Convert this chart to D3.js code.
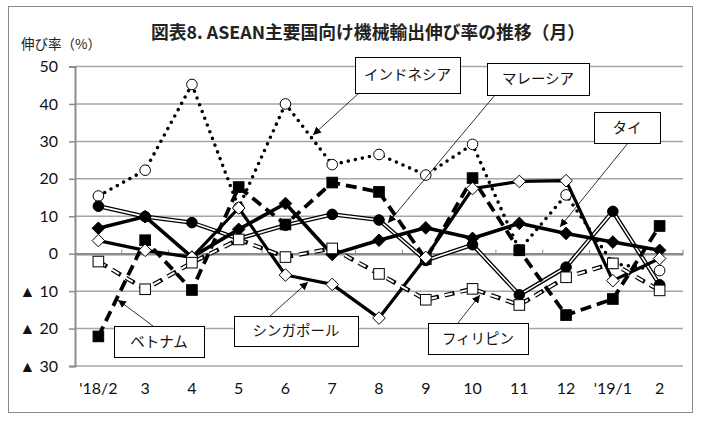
<!DOCTYPE html>
<html>
<head>
<meta charset="utf-8">
<script src="https://cdn.jsdelivr.net/npm/d3@7"></script>
<style>
  body { margin: 0; background: #fff; }
  svg { display: block; }
</style>
</head>
<body>
<svg id="chart"></svg>
<script>
//
// Data
//
var months = ["'18/2", "3", "4", "5", "6", "7", "8", "9", "10", "11", "12", "'19/1", "2"]
var yTicks = [50, 40, 30, 20, 10, 0, -10, -20, -30]

var indonesia   = [15.4, 22.3, 45.2, 12.3, 40.0, 23.8, 26.5, 21.0, 29.2, 1.0, 15.7, -2.6, -4.5]
var malaysia    = [12.7, 9.9, 8.3, 4.0, 7.6, 10.5, 9.0, -1.8, 2.4, -11.0, -3.6, 11.3, -8.3]
var thai        = [6.8, 9.9, -0.9, 6.5, 13.4, -0.2, 3.6, 6.9, 4.1, 8.1, 5.4, 3.1, 0.9]
var vietnam     = [-22.1, 3.6, -9.7, 17.8, 7.8, 19.0, 16.5, -1.5, 20.2, 0.9, -16.4, -12.1, 7.4]
var singapore   = [3.5, 0.9, -1.0, 12.2, -5.7, -8.2, -17.2, -1.0, 17.4, 19.3, 19.5, -7.2, -1.3]
var philippines = [-2.1, -9.5, -2.4, 3.8, -0.9, 1.4, -5.4, -12.3, -9.4, -13.7, -6.3, -2.6, -9.8]

//
// Layout
//
var width = 703, height = 425
var plotLeft = 75, plotRight = 683, plotTop = 66.5, plotBottom = 366
var jpFont = "'Noto Sans CJK JP', sans-serif"
var numFont = "Lato, 'Noto Sans', sans-serif"

var svg = d3.select('#chart').attr('width', width).attr('height', height)

var x = d3.scaleBand().domain(months).range([plotLeft, plotRight])
var y = d3.scaleLinear().domain([-30, 50]).range([plotBottom, plotTop])
var cx = function(d, i) { return x(months[i]) + x.bandwidth() / 2 }

// frame
svg.append('rect')
  .attr('x', 8.5).attr('y', 6.5).attr('width', 684).attr('height', 406)
  .attr('fill', '#fff').attr('stroke', '#888').attr('stroke-width', 1)

// title
svg.append('text')
  .attr('x', 368).attr('y', 39)
  .attr('text-anchor', 'middle')
  .attr('font-family', jpFont).attr('font-weight', 'bold').attr('font-size', 17.8)
  .attr('fill', '#222')
  .text('図表8. ASEAN主要国向け機械輸出伸び率の推移（月）')

svg.append('text')
  .attr('x', 21).attr('y', 49)
  .attr('font-family', jpFont).attr('font-size', 13.5)
  .attr('fill', '#222')
  .text('伸び率（%）')

// grid
svg.append('g').selectAll('line')
  .data(yTicks.filter(function(t) { return t !== 0 }))
  .join('line')
  .attr('x1', plotLeft).attr('x2', plotRight)
  .attr('y1', function(d) { return y(d) }).attr('y2', function(d) { return y(d) })
  .attr('stroke', '#a6a6a6').attr('stroke-width', 1.5)

// y axis
var yAxis = d3.axisLeft(y).tickValues(yTicks).tickSize(6)
  .tickFormat(function(d) { return d < 0 ? '▲ ' + (-d) : d })
var gy = svg.append('g').attr('transform', 'translate(' + plotLeft + ',0)').call(yAxis)
gy.select('.domain').attr('stroke', '#8c8c8c').attr('stroke-width', 2)
gy.selectAll('.tick line').attr('stroke', '#8c8c8c').attr('stroke-width', 1.5)
gy.selectAll('.tick text')
  .attr('x', -17)
  .attr('font-family', numFont).attr('font-size', 16).attr('fill', '#111')

// x axis along zero line
var xAxis = d3.axisTop(x).tickSize(0).tickFormat('')
var gx = svg.append('g').attr('transform', 'translate(0,' + y(0) + ')').call(xAxis)
gx.select('.domain').attr('stroke', '#8c8c8c').attr('stroke-width', 2.5)
gx.selectAll('.bound')
  .data(months.slice(1).concat(['end']))
  .join('line')
  .attr('class', 'bound')
  .attr('x1', function(d, i) { return plotLeft + x.step() * (i + 1) })
  .attr('x2', function(d, i) { return plotLeft + x.step() * (i + 1) })
  .attr('y1', -4).attr('y2', 0)
  .attr('stroke', '#8c8c8c').attr('stroke-width', 1)

// month labels at bottom
svg.append('g').selectAll('text')
  .data(months)
  .join('text')
  .attr('x', function(d) { return x(d) + x.bandwidth() / 2 })
  .attr('y', 394)
  .attr('text-anchor', 'middle')
  .attr('font-family', numFont).attr('font-size', 16).attr('fill', '#111')
  .text(function(d) { return d })

//
// Series
//
var line = d3.line().x(cx).y(function(d) { return y(d) })

function drawLine(values, color, w, dash, cap) {
  svg.append('path')
    .datum(values)
    .attr('d', line)
    .attr('fill', 'none')
    .attr('stroke', color)
    .attr('stroke-width', w)
    .attr('stroke-dasharray', dash || null)
    .attr('stroke-linecap', cap || 'butt')
    .attr('stroke-linejoin', 'round')
}

function drawMarkers(values, shape, fill) {
  var g = svg.append('g')
  values.forEach(function(v, i) {
    var px = cx(v, i), py = y(v)
    if (shape === 'circle') {
      g.append('circle').attr('cx', px).attr('cy', py).attr('r', 5.3)
        .attr('fill', fill).attr('stroke', '#000').attr('stroke-width', 1)
    } else if (shape === 'square') {
      g.append('rect').attr('x', px - 5.3).attr('y', py - 5.3).attr('width', 10.6).attr('height', 10.6)
        .attr('fill', fill).attr('stroke', '#000').attr('stroke-width', 1)
    } else {
      g.append('path').attr('d', 'M' + px + ',' + (py - 6.3) + 'L' + (px + 6.3) + ',' + py +
          'L' + px + ',' + (py + 6.3) + 'L' + (px - 6.3) + ',' + py + 'Z')
        .attr('fill', fill).attr('stroke', '#000').attr('stroke-width', 1)
    }
  })
}

// インドネシア: dotted
drawLine(indonesia, '#000', 3.6, '0,7.2', 'round')
drawMarkers(indonesia, 'circle', '#fff')

// マレーシア: double line
drawLine(malaysia, '#000', 4.2)
drawLine(malaysia, '#fff', 1.6)
drawMarkers(malaysia, 'circle', '#000')

// タイ: thick solid
drawLine(thai, '#000', 3.6)
drawMarkers(thai, 'diamond', '#000')

// ベトナム: thick dashed
drawLine(vietnam, '#000', 3.8, '11,6')
drawMarkers(vietnam, 'square', '#000')

// シンガポール: solid
drawLine(singapore, '#000', 3.2)
drawMarkers(singapore, 'diamond', '#fff')

// フィリピン: outlined dashes
drawLine(philippines, '#000', 4.4, '10,6')
drawLine(philippines, '#fff', 2, '8,8', null)
drawMarkers(philippines, 'square', '#fff')

//
// Callouts
//
var callouts = [
  { text: 'インドネシア', box: [355, 57, 105, 36], from: [359, 93], to: [313, 135] },
  { text: 'マレーシア', box: [487, 63, 102, 32], from: [495, 95], to: [388, 223] },
  { text: 'タイ', box: [594, 112, 66, 31], from: [628, 143], to: [560, 227] },
  { text: 'ベトナム', box: [114, 326, 90, 31], from: [153, 326], to: [118, 300] },
  { text: 'シンガポール', box: [234, 316, 124, 30], from: [270, 316], to: [308, 282] },
  { text: 'フィリピン', box: [428, 323, 100, 31], from: [458, 323], to: [480, 295] }
]

svg.append('defs').append('marker')
  .attr('id', 'arrow')
  .attr('viewBox', '0 0 10 10')
  .attr('refX', 10).attr('refY', 5)
  .attr('markerWidth', 8).attr('markerHeight', 8)
  .attr('markerUnits', 'userSpaceOnUse')
  .attr('orient', 'auto')
  .append('path').attr('d', 'M0,0L10,5L0,10Z').attr('fill', '#000')

var cg = svg.append('g').selectAll('g').data(callouts).join('g')
cg.append('line')
  .attr('x1', function(d) { return d.from[0] }).attr('y1', function(d) { return d.from[1] })
  .attr('x2', function(d) { return d.to[0] }).attr('y2', function(d) { return d.to[1] })
  .attr('stroke', '#000').attr('stroke-width', 0.8)
  .attr('marker-end', 'url(#arrow)')
cg.append('rect')
  .attr('x', function(d) { return d.box[0] + 0.5 }).attr('y', function(d) { return d.box[1] + 0.5 })
  .attr('width', function(d) { return d.box[2] }).attr('height', function(d) { return d.box[3] })
  .attr('fill', '#fff').attr('stroke', '#000').attr('stroke-width', 1)
cg.append('text')
  .attr('x', function(d) { return d.box[0] + d.box[2] / 2 })
  .attr('y', function(d) { return d.box[1] + d.box[3] / 2 + 5 })
  .attr('text-anchor', 'middle')
  .attr('font-family', jpFont).attr('font-size', 14.5).attr('fill', '#111')
  .text(function(d) { return d.text })
</script>
</body>
</html>
